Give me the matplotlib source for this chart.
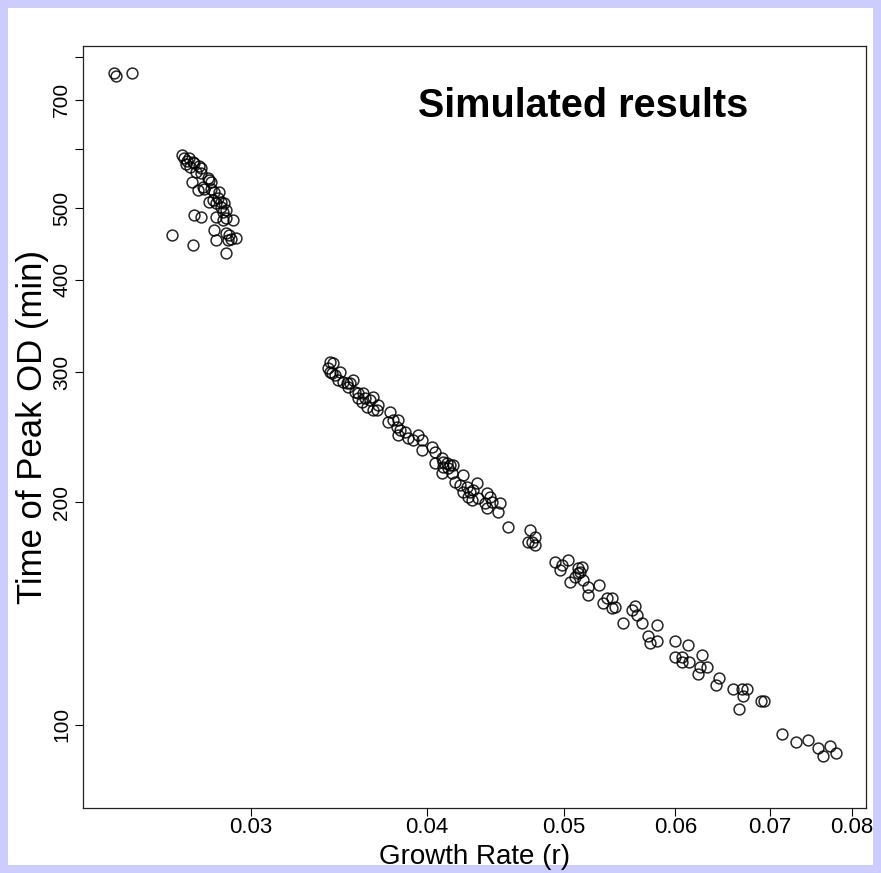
import matplotlib
matplotlib.use("Agg")
import matplotlib.pyplot as plt
from matplotlib.patches import Rectangle
from matplotlib.ticker import NullLocator

# growth rate r vs time of peak OD (min)
r_early = [0.0240, 0.0241, 0.0247]
t_early = [762, 754, 762]

r_mid = [0.02681, 0.02690, 0.02703, 0.02712, 0.02730, 0.02735, 0.02699, 0.02717,
         0.02757, 0.02765, 0.02743, 0.02765, 0.02726, 0.02797, 0.02811, 0.02802,
         0.02774, 0.02752, 0.02779, 0.02811, 0.02825, 0.02848, 0.02820, 0.02843,
         0.02802, 0.02857, 0.02871, 0.02834, 0.02857, 0.02880, 0.02866, 0.02735,
         0.02765, 0.02834, 0.02866, 0.02880, 0.02913, 0.02825, 0.02880, 0.02894,
         0.02927, 0.02904, 0.02890, 0.02640, 0.02730, 0.02834, 0.02880]
t_mid = [590, 584, 579, 584, 577, 575, 573, 568,
         570, 566, 559, 557, 542, 549, 542, 546,
         534, 528, 530, 530, 525, 525, 513, 516,
         510, 510, 508, 508, 502, 497, 494, 489,
         486, 486, 482, 485, 482, 467, 463, 460,
         455, 454, 453, 460, 446, 453, 435]

r_late = [0.03417, 0.03434, 0.03406, 0.03417, 0.03428, 0.03445, 0.03473, 0.03462,
          0.03490, 0.03513, 0.03530, 0.03548, 0.03519, 0.03559, 0.03577, 0.03606,
          0.03577, 0.03618, 0.03600, 0.03648, 0.03665, 0.03630, 0.03665, 0.03695,
          0.03689, 0.03768, 0.03756, 0.03787, 0.03818, 0.03812, 0.03830, 0.03862,
          0.03818, 0.03881, 0.03913, 0.03945, 0.03971, 0.03971,
          0.04036, 0.04056, 0.04056, 0.04102, 0.04109, 0.04136, 0.04156, 0.04109,
          0.04143, 0.04177, 0.04102, 0.04170, 0.04245, 0.04190, 0.04224, 0.04273,
          0.04343, 0.04245, 0.04294, 0.04315, 0.04280, 0.04308, 0.04350, 0.04415,
          0.04436, 0.04400, 0.04451, 0.04509, 0.04415, 0.04494, 0.04568,
          0.04735, 0.04774, 0.04720, 0.04751, 0.04774, 0.04932, 0.04989, 0.05038,
          0.04972, 0.05120, 0.05137, 0.05120, 0.05154, 0.05095, 0.05054, 0.05162,
          0.05204, 0.05299, 0.05204, 0.05333, 0.05368, 0.05412, 0.05412, 0.05438,
          0.05510, 0.05591, 0.05619, 0.05637,
          0.05683, 0.05824, 0.05739, 0.05758, 0.05824, 0.05997, 0.06126, 0.05997,
          0.06066, 0.06066, 0.06136, 0.06267, 0.06247, 0.06318, 0.06226, 0.06443,
          0.06412, 0.06592, 0.06689, 0.06744, 0.06700, 0.06899, 0.06933, 0.06656,
          0.07139, 0.07303, 0.07448, 0.07570, 0.07720, 0.07632, 0.07795]
t_late = [309.6, 308.6, 303.9, 300.1, 299.2, 297.3, 300.1, 292.7,
          290.9, 290.0, 290.0, 292.7, 286.4, 282.0, 281.1, 281.1,
          276.8, 276.8, 273.3, 275.0, 277.6, 269.2, 266.7, 270.8,
          266.7, 265.0, 256.9, 258.5, 258.5, 252.9, 250.5, 249.0,
          246.6, 244.3, 242.8, 246.6, 242.8, 235.4,
          237.6, 234.0, 226.1, 229.6, 226.8, 226.1, 224.7, 223.3,
          222.6, 224.7, 219.2, 219.2, 217.8, 213.1, 211.1, 209.8,
          212.4, 206.5, 206.5, 207.8, 203.3, 201.5, 202.7, 205.9,
          203.3, 199.6, 200.2, 199.6, 196.5, 194.1, 185.2,
          183.5, 179.6, 176.8, 176.8, 175.1, 166.1, 164.5, 167.1,
          162.0, 163.0, 161.0, 160.5, 163.5, 158.5, 156.1, 157.1,
          153.7, 154.7, 149.9, 146.2, 148.5, 148.5, 143.9, 144.4,
          137.4, 143.0, 144.8, 140.8,
          137.4, 136.5, 131.9, 129.1, 129.9, 129.9, 128.3, 123.6,
          123.6, 121.7, 121.7, 124.3, 119.8, 119.8, 117.2, 115.7,
          113.3, 111.9, 111.9, 111.9, 109.4, 107.8, 107.8, 105.1,
          97.2, 94.8, 95.4, 93.1, 93.7, 90.8, 91.7]

x_ticks = [0.03, 0.04, 0.05, 0.06, 0.07, 0.08]
x_ticklabels = ["0.03", "0.04", "0.05", "0.06", "0.07", "0.08"]
y_ticks = [100, 200, 300, 400, 500, 600, 700, 800]
y_ticklabels = ["100", "200", "300", "400", "500", "", "700", ""]

BG = "#ccccff"
font = ["Liberation Sans", "DejaVu Sans"]

fig = plt.figure(figsize=(8.81, 8.73), dpi=100, facecolor=BG)
fig.patches.append(Rectangle((8 / 881, 8 / 873), 865 / 881, 857 / 873,
                             transform=fig.transFigure, facecolor="white",
                             edgecolor="none", zorder=-10))
ax = fig.add_axes([83 / 881, 1 - 808 / 873, 783 / 881, 762 / 873])
ax.set_facecolor("white")

xs = r_early + r_mid + r_late
ys = t_early + t_mid + t_late
ax.plot(xs, ys, "o", linestyle="none", markersize=7.8, markerfacecolor="none",
        markeredgecolor="black", markeredgewidth=1.1, alpha=0.85)

ax.set_xscale("log")
ax.set_yscale("log")
ax.set_xlim(0.02282, 0.0819)
ax.set_ylim(77.2, 828)

ax.xaxis.set_minor_locator(NullLocator())
ax.yaxis.set_minor_locator(NullLocator())
ax.set_xticks(x_ticks)
ax.set_xticklabels(x_ticklabels, family=font, fontsize=16)
ax.set_yticks(y_ticks)
ax.set_yticklabels(y_ticklabels, family=font, fontsize=15, rotation=90, va="center")
ax.tick_params(direction="out", length=5.5, width=0.8)
ax.tick_params(axis="x", pad=0.8)
ax.tick_params(axis="y", pad=3)

for s in ax.spines.values():
    s.set_linewidth(0.9)
    s.set_color("#222222")

ax.set_xlabel("Growth Rate (r)", family=font, fontsize=20, va="center")
ax.xaxis.set_label_coords(0.5, -0.0645)
ax.set_ylabel("Time of Peak OD (min)", family=font, fontsize=25, labelpad=2)

ax.text(0.639, 0.921, "Simulated results", transform=ax.transAxes,
        ha="center", va="center", fontsize=28.5, fontweight="bold", family=font)

fig.savefig("out.png", dpi=100, facecolor=BG)
